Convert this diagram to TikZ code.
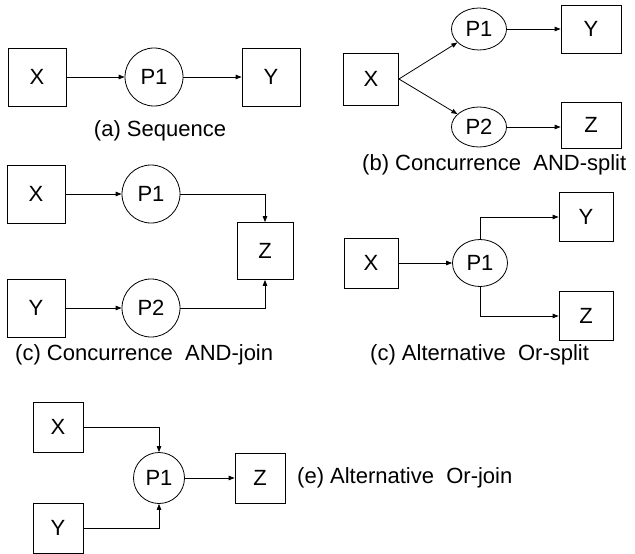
\documentclass[tikz,border=0pt]{standalone}
\usepackage{fontspec}
\setmainfont{Liberation Sans}
\usetikzlibrary{arrows.meta,shapes.geometric}
\begin{document}
\begin{tikzpicture}[x=1pt,y=-1pt,
  every node/.style={font=\fontsize{22}{26}\selectfont, inner sep=0pt},
  box/.style={draw, line width=0.8pt, rectangle, minimum width=#1, minimum height=#1},
  boxwh/.style 2 args={draw, line width=0.8pt, rectangle, minimum width=#1, minimum height=#2},
  proc/.style={draw, line width=0.8pt, circle, minimum size=#1},
  eproc/.style 2 args={draw, line width=0.8pt, ellipse, minimum width=#1, minimum height=#2},
  captext/.style={anchor=west},
  conn/.style={line width=0.8pt, -{Triangle[length=6pt,width=4.5pt]}}]
\useasboundingbox (0,0) rectangle (635,554);
% (a) Sequence
\node[box=58] (aX) at (37,77) {X};
\node[proc=58] (aP) at (154,77) {P1};
\node[box=58] (aY) at (271,77) {Y};
\node (acap) at (160,131) {(a) Sequence};
\draw[conn] (aX) -- (aP);
\draw[conn] (aP) -- (aY);
% (b) AND-split
\node[boxwh={55}{52}] (bX) at (371,79) {X};
\node[eproc={55}{42}] (bP1) at (479,29) {P1};
\node[eproc={55}{40}] (bP2) at (479,127) {P2};
\node[boxwh={60}{48}] (bY) at (591,29) {Y};
\node[boxwh={60}{46}] (bZ) at (591,125) {Z};
\node[captext] (bcap) at (362,165) {(b) Concurrence\ \ AND-split};
\draw[conn] (bX.east) -- (bP1);
\draw[conn] (bX.east) -- (bP2);
\draw[conn] (bP1) -- (bY.west |- bP1);
\draw[conn] (bP2) -- (bZ.west |- bP2);
% (c) AND-join
\node[box=58] (cX) at (36,194) {X};
\node[proc=58] (cP1) at (151,194) {P1};
\node[box=58] (cY) at (36,308) {Y};
\node[proc=58] (cP2) at (151,308) {P2};
\node[boxwh={56}{57}] (cZ) at (265,251) {Z};
\node[captext] (ccap) at (15,355) {(c) Concurrence\ \ AND-join};
\draw[conn] (cX) -- (cP1);
\draw[conn] (cY) -- (cP2);
\draw[conn] (cP1) -| (cZ.north);
\draw[conn] (cP2) -| (cZ.south);
% (c) Or-split
\node[boxwh={54}{50}] (dX) at (371,263) {X};
\node[eproc={55}{47}] (dP) at (480,263) {P1};
\node[boxwh={54}{49}] (dY) at (586,217) {Y};
\node[boxwh={54}{49}] (dZ) at (586,316) {Z};
\node[captext] (dcap) at (370,355) {(c) Alternative\ \ Or-split};
\draw[conn] (dX) -- (dP);
\draw[conn] (dP.north) |- (dY.west);
\draw[conn] (dP.south) |- (dZ.west);
% (e) Or-join
\node[box=50] (eX) at (58,427) {X};
\node[box=50] (eY) at (58,528) {Y};
\node[proc=51] (eP) at (159,478) {P1};
\node[box=50] (eZ) at (260,478) {Z};
\node[captext] (ecap) at (297,478) {(e) Alternative\ \ Or-join};
\draw[conn] (eX.east) -| (eP.north);
\draw[conn] (eY.east) -| (eP.south);
\draw[conn] (eP) -- (eZ);
\end{tikzpicture}
\end{document}
